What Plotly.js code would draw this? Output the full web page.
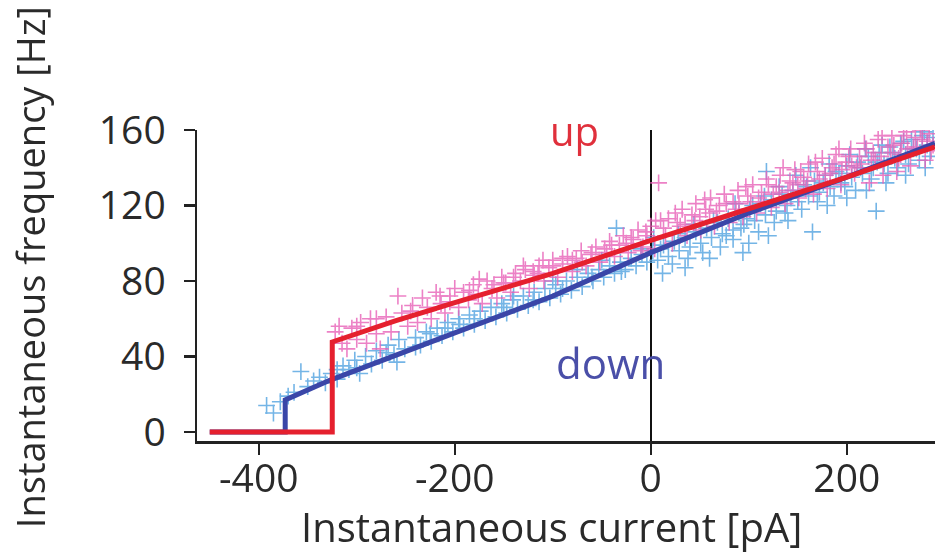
<!DOCTYPE html>
<html>
<head>
<meta charset="utf-8">
<script src="https://cdn.plot.ly/plotly-3.0.1.min.js"></script>
<style>html,body{margin:0;padding:0;background:#fff;}#chart{width:935px;height:556px;}</style>
</head>
<body>
<div id="chart"></div>
<script>
// ---- data ----
const upX = [-322,-318,-315,-310,-305,-300,-296,-290,-286,-280,-276,-270,-265,-258,-254,-248,-243,-238,-233,-228,-224,-219,-214,-210,-205,-200,-196,-191,-186,-181,-176,-172,-167,-162,-157,-152,-148,-143,-138,-133,-128,-124,-119,-114,-109,-104,-100,-95,-90,-85,-80,-76,-71,-66,-61,-56,-52,-47,-42,-37,-32,-28,-23,-18,-13,-8,-4,0,4,8,13,18,22,27,32,37,42,46,51,56,61,65,70,75,80,84,89,94,99,104,108,113,118,123,128,132,137,142,147,151,156,161,166,170,175,180,185,189,194,199,204,208,213,218,223,227,232,237,242,246,251,256,261,265,270,275,280,284,288,-160,-140,-120,-100,-80,-60,-40,-20,-10,10,30,50,60,90,110,125,140,150,160,172,183,195,205,215,225,235,245,255,262,272,282,
  5,15,25,35,45,55,67,77,87,97,102,115,120,131,135,145,153,158,168,178,187,192,202,210,220,229,236,248,253,258,268,277,286,-300,-280,-245,-215,-185,-150,-115,-90,-70,-45,-25,-5,-110,-130,-175,-205];
const upY = [53,56,47,44,55,49,58,47,60,52,44,61,53,72,63,56,67,58,71,66,60,74,68,63,72,76,66,74,70,78,73,68,80,76,71,82,79,74,84,80,86,76,83,88,80,87,91,82,89,93,85,92,96,88,94,98,90,97,101,93,99,104,95,102,107,98,104,109,97,132,108,113,100,111,118,104,115,121,107,118,124,109,120,126,111,122,128,114,125,131,116,127,134,119,130,136,121,133,139,124,135,142,126,138,145,129,140,147,131,143,150,137,146,153,132,148,155,136,151,157,138,153,159,141,156,160,144,158,152,78,82,85,88,91,95,99,103,96,112,109,114,116,121,124,126,128,131,133,134,137,139,141,142,144,146,148,147,150,151,154,
  112,104,116,110,112,123,117,121,118,130,122,122,131,127,140,132,138,129,143,136,142,150,146,140,150,144,157,152,145,157,151,155,149,56,60,64,72,75,79,84,92,90,95,100,106,91,88,81,69];

const downX = [-392,-385,-378,-370,-364,-357,-350,-344,-338,-332,-326,-320,-314,-308,-302,-297,-291,-285,-280,-274,-268,-262,-259,-257,-251,-240,-235,-229,-224,-218,-213,-207,-202,-196,-191,-185,-180,-174,-169,-163,-158,-152,-147,-141,-136,-130,-125,-119,-114,-108,-103,-97,-92,-86,-81,-75,-70,-64,-59,-53,-48,-42,-37,-35,-31,-26,-20,-15,-9,-4,2,7,12,13,18,24,29,35,35,40,46,51,57,60,62,68,73,79,84,84,90,94,95,100,101,106,112,117,118,120,123,128,134,139,140,145,150,156,161,165,167,172,178,180,183,189,194,200,200,205,211,216,220,222,227,230,233,238,240,244,249,255,260,260,266,271,277,280,282,288,
  3,10,22,28,38,44,53,64,71,77,86,92,98,104,110,116,126,131,137,143,148,154,159,163,170,176,182,187,192,198,203,209,214,219,225,231,236,242,247,252,258,263,268,274,279,285,-320,-300,-270,-240,-210,-180,-150,-120,-90,-60,-30,-10,-50,-75,-100,-140,-195,-225];
const downY = [14,10,16,19,21,32,24,27,29,26,31,28,35,33,38,31,40,36,43,38,46,41,37,49,44,50,46,53,48,55,51,58,53,60,55,62,57,64,59,66,61,68,63,70,65,72,67,74,69,76,71,78,73,80,75,82,77,84,80,86,82,88,84,108,90,86,92,88,94,90,96,91,84,99,93,101,96,103,87,98,106,100,108,92,103,111,105,113,107,102,116,95,110,100,118,112,121,115,138,104,123,117,126,120,112,128,122,131,125,106,133,127,136,120,130,138,132,141,124,135,143,137,128,146,140,117,148,142,132,151,145,153,147,136,155,150,157,140,152,156,
  103,97,89,105,92,110,95,112,98,104,121,108,113,120,106,125,111,130,116,124,136,118,130,140,122,132,142,125,137,130,147,128,140,150,134,143,152,137,148,140,154,142,150,144,159,146,33,34,42,45,55,60,66,70,76,82,85,97,91,86,80,72,57,52];

const upLineX = [-450,-325,-325,-260,-200,-100,0,100,200,290];
const upLineY = [0,0,47.7,59,68.5,84,101.5,118,135,151];
const downLineX = [-450,-373,-373,-327,-200,-100,0,100,200,290];
const downLineY = [0,0,17,27.5,52.5,72,95,116,135,153];

const xTickVals = [-400,-200,0,200];
const xTickText = ['-400','-200','0','200'];
const yTickVals = [0,40,80,120,160];

const FONT = '"Open Sans", "Noto Sans", sans-serif';
const TXT = '#2a2a2a';

const traces = [
  {x: downX, y: downY, type: 'scatter', mode: 'markers', name: 'down pts',
   marker: {symbol: 'cross-thin', size: 12, color: '#5ca8e2', line: {color: '#5ca8e2', width: 1.6}}, opacity: 0.85},
  {x: upX, y: upY, type: 'scatter', mode: 'markers', name: 'up pts',
   marker: {symbol: 'cross-thin', size: 12, color: '#e862b8', line: {color: '#e862b8', width: 1.6}}, opacity: 0.8},
  {x: downLineX, y: downLineY, type: 'scatter', mode: 'lines', name: 'down',
   line: {color: '#3a46a8', width: 5}},
  {x: upLineX, y: upLineY, type: 'scatter', mode: 'lines', name: 'up',
   line: {color: '#e5202e', width: 5}}
];

const layout = {
  width: 935, height: 556,
  margin: {l: 197, r: 0, t: 130, b: 115, pad: 0},
  paper_bgcolor: '#fff', plot_bgcolor: '#fff',
  showlegend: false,
  font: {family: FONT, color: TXT, size: 38},
  xaxis: {
    range: [-463, 290], showgrid: false,
    zeroline: true, zerolinecolor: '#111', zerolinewidth: 2,
    showline: true, linecolor: '#222', linewidth: 2.5,
    ticks: 'outside', ticklen: 11, tickwidth: 2.5, tickcolor: '#222',
    tickvals: xTickVals, ticktext: xTickText,
    tickfont: {family: FONT, size: 39, color: TXT},
    ticklabelstandoff: -9,
    automargin: false, fixedrange: true
  },
  yaxis: {
    range: [-4.8, 160], showgrid: false, zeroline: false,
    showline: true, linecolor: '#222', linewidth: 2.5,
    ticks: 'outside', ticklen: 11, tickwidth: 2.5, tickcolor: '#222',
    tickvals: yTickVals,
    tickfont: {family: FONT, size: 39, color: TXT},
    ticklabelstandoff: 10,
    automargin: false, fixedrange: true
  },
  annotations: [
    {x: -78, y: 160, xref: 'x', yref: 'y', text: 'up', showarrow: false,
     font: {family: FONT, size: 40, color: '#e0303c'}},
    {x: -41, y: 37, xref: 'x', yref: 'y', text: 'down', showarrow: false,
     font: {family: FONT, size: 42, color: '#4a4fa8'}},
    {x: 0.481, y: -0.274, xref: 'paper', yref: 'paper', xanchor: 'center', yanchor: 'middle',
     text: 'Instantaneous current [pA]', showarrow: false,
     font: {family: FONT, size: 40, color: TXT}},
    {x: -0.2263, y: 0.559, xref: 'paper', yref: 'paper', xanchor: 'center', yanchor: 'middle',
     text: 'Instantaneous frequency [Hz]', textangle: -90, showarrow: false,
     font: {family: FONT, size: 38, color: TXT}}
  ]
};

Plotly.newPlot('chart', traces, layout, {displayModeBar: false, staticPlot: true});
</script>
</body>
</html>
